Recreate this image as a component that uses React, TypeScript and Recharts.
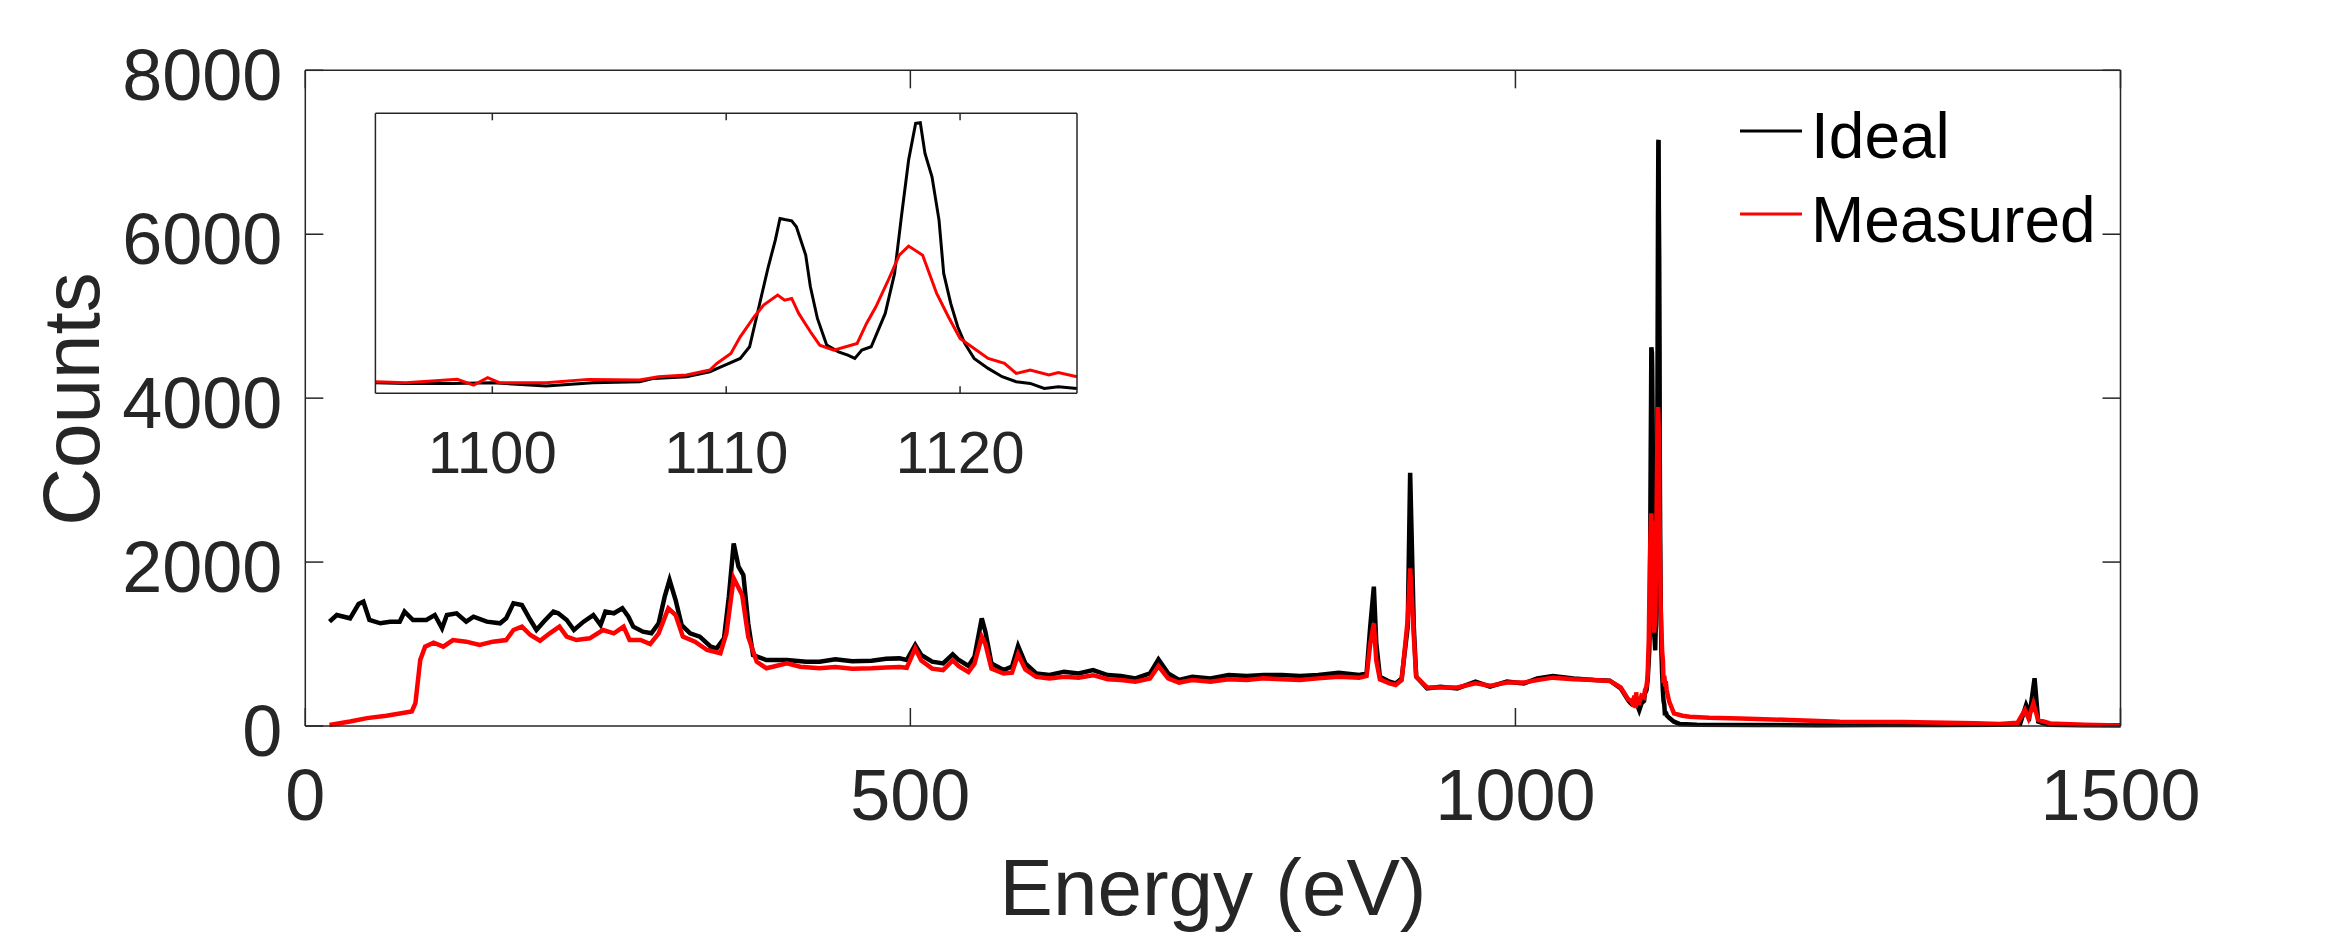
import React from "react"
import { LineChart, Line, XAxis, YAxis, Legend } from "recharts"

const FONT = "'Liberation Sans', Arial, Helvetica, sans-serif"
const AXIS = "#262626"

// Main spectrum (eV / counts). The 1095-1125 eV stretch comes from the inset arrays.
const idealEnergy = [
  20, 26, 37, 44, 48, 53, 62, 70, 78, 82, 89, 100, 107, 113, 117, 125, 133, 139, 150, 161,
  166, 172, 179, 186, 191, 197, 205, 209, 216, 222, 230, 238, 244, 248, 255, 262, 267, 271, 279, 286,
  292, 297, 301, 306, 311, 318, 326, 335, 340, 346, 350, 354, 358, 362, 366, 370, 381, 398, 414, 425,
  438, 452, 468, 480, 491, 497, 504, 509, 518, 527, 535, 540, 548, 553, 559, 562, 567, 577, 584, 589,
  595, 604, 615, 627, 639, 651, 663, 674, 686, 698, 705, 713, 722, 733, 748, 763, 778, 792, 807, 822,
  837, 854, 871, 877, 880, 883, 885, 888, 896, 901, 906, 911, 913, 916, 918, 927, 938, 952, 967, 979,
  993, 1007, 1018, 1031, 1048, 1065, 1078, 1087, 1093,
  1127, 1131, 1136, 1150, 1200, 1250, 1300, 1350, 1400, 1417, 1422, 1425, 1429, 1432, 1440, 1470, 1500,
]
const idealCounts = [
  1273, 1354, 1314, 1488, 1516, 1293, 1253, 1273, 1273, 1395, 1293, 1293, 1354, 1192, 1354, 1375, 1273, 1334, 1273, 1253,
  1314, 1497, 1476, 1293, 1171, 1273, 1395, 1375, 1293, 1171, 1273, 1354, 1232, 1395, 1375, 1436, 1334, 1212, 1151, 1131,
  1253, 1578, 1781, 1537, 1232, 1131, 1090, 968, 948, 1070, 1578, 2228, 1944, 1842, 1253, 866, 805, 805, 785, 785,
  813, 790, 797, 820, 825, 805, 988, 866, 785, 764, 874, 805, 732, 846, 1314, 1151, 764, 683, 724, 976,
  764, 642, 622, 663, 642, 683, 622, 610, 581, 642, 813, 642, 561, 602, 581, 622, 610, 622, 622, 610,
  622, 651, 622, 642, 1212, 1700, 1009, 602, 541, 520, 581, 1212, 3089, 1212, 602, 459, 480, 459, 541, 480,
  541, 520, 581, 610, 581, 561, 553, 459, 317,
  100, 53, 24, 15, 12, 10, 12, 12, 15, 24, 256, 150, 582, 53, 15, 10, 8,
]

const measuredEnergy = [
  20, 37, 51, 67, 88, 91, 95, 99, 106, 114, 122, 133, 144, 155, 166, 172, 179, 186, 194, 202,
  210, 216, 224, 235, 246, 255, 263, 268, 277, 285, 292, 300, 306, 312, 322, 332, 343, 348, 354, 361,
  366, 373, 381, 398, 409, 425, 438, 452, 468, 480, 491, 497, 504, 509, 518, 527, 535, 540, 548, 553,
  559, 562, 567, 577, 584, 589, 595, 604, 615, 627, 639, 651, 663, 674, 686, 698, 705, 713, 722, 733,
  748, 763, 778, 792, 807, 822, 837, 854, 871, 877, 880, 883, 885, 888, 896, 901, 906, 911, 913, 916,
  918, 927, 938, 952, 967, 979, 993, 1007, 1018, 1031, 1048, 1065, 1078, 1087, 1093,
  1127, 1131, 1138, 1144, 1160, 1186, 1227, 1268, 1320, 1380, 1400, 1415, 1421, 1424, 1428, 1432, 1442, 1470, 1500,
]
const measuredCounts = [
  12, 55, 96, 124, 177, 279, 807, 968, 1017, 968, 1049, 1029, 988, 1029, 1049, 1171, 1212, 1110, 1041, 1131,
  1212, 1090, 1049, 1070, 1171, 1131, 1212, 1049, 1049, 1000, 1131, 1436, 1354, 1090, 1029, 927, 887, 1131, 1802, 1598,
  1090, 785, 704, 765, 724, 704, 720, 700, 704, 715, 720, 710, 947, 800, 700, 683, 800, 730, 660, 760,
  1090, 1000, 700, 640, 650, 874, 690, 600, 581, 600, 590, 620, 570, 561, 540, 580, 732, 580, 530, 560,
  541, 570, 560, 581, 570, 560, 581, 600, 590, 610, 1000, 1253, 800, 570, 520, 500, 560, 1300, 1924, 1100,
  600, 470, 470, 470, 520, 490, 530, 530, 560, 590, 570, 560, 550, 470, 330,
  300, 154, 125, 114, 100, 93, 73, 53, 50, 35, 24, 40, 195, 93, 276, 73, 32, 15, 5,
]

// Inset: zoom on the 1095-1125 eV doublet
const insetIdealEnergy = [
  1095, 1096.3, 1098.3, 1100, 1102.3, 1104.3, 1106.3, 1106.9, 1108.3, 1109.3, 1109.8, 1110.6, 1111, 1111.4, 1111.8,
  1112.1, 1112.3, 1112.5, 1112.8, 1113, 1113.4, 1113.6, 1113.9, 1114.3, 1114.8, 1115.2, 1115.5, 1115.8, 1116.2,
  1116.8, 1117.2, 1117.5, 1117.8, 1118.1, 1118.3, 1118.5, 1118.8, 1119.1, 1119.3, 1119.6, 1119.9, 1120.2, 1120.6,
  1121.2, 1121.8, 1122.4, 1123, 1123.6, 1124.2, 1125,
]
const insetIdealCounts = [
  280, 262, 262, 280, 192, 280, 306, 394, 438, 570, 702, 922, 1230, 2287, 3344,
  4048, 4621, 4594, 4559, 4400, 3652, 2815, 1978, 1273, 1097, 1009, 922, 1141, 1230,
  2111, 3168, 4710, 6164, 7133, 7150, 6340, 5724, 4577, 3168, 2375, 1759, 1318, 922,
  658, 438, 306, 262, 130, 174, 130,
]
const insetMeasuredEnergy = [
  1095, 1096.3, 1098.5, 1099.2, 1099.8, 1100.3, 1102.3, 1104.1, 1106.3, 1107.1, 1108.3, 1109.3, 1109.6, 1110.2,
  1110.6, 1111.2, 1111.6, 1112.2, 1112.5, 1112.8, 1113.1, 1113.6, 1114, 1114.6, 1115.6, 1116, 1116.4, 1116.9,
  1117.4, 1117.8, 1118.4, 1119, 1119.5, 1120, 1120.6, 1121.2, 1121.9, 1122.4, 1123, 1123.8, 1124.2, 1125,
]
const insetMeasuredCounts = [
  306, 280, 368, 218, 412, 280, 280, 368, 350, 438, 482, 614, 790, 1053,
  1494, 2023, 2331, 2595, 2463, 2507, 2111, 1626, 1273, 1141, 1318, 1847, 2287, 2948,
  3652, 3890, 3652, 2639, 2023, 1450, 1185, 922, 790, 526, 614, 482, 546, 438,
]

const mainXTicks = [0, 500, 1000, 1500]
const mainYTicks = [0, 2000, 4000, 6000, 8000]
const insetXTicks = [1100, 1110, 1120]

type Pt = { energy: number; counts: number }
const zip = (es: number[], cs: number[]): Pt[] => es.map((e, i) => ({ energy: e, counts: cs[i] }))

const insetIdeal = zip(insetIdealEnergy, insetIdealCounts)
const insetMeasured = zip(insetMeasuredEnergy, insetMeasuredCounts)
const idealData = [...zip(idealEnergy, idealCounts), ...insetIdeal].sort((a, b) => a.energy - b.energy)
const measuredData = [...zip(measuredEnergy, measuredCounts), ...insetMeasured].sort((a, b) => a.energy - b.energy)

// ticks point inward, MATLAB style; dir = +1 draws up/right from the axis line
function xTick(len: number, dir: number, fontSize?: number, labelDy?: number) {
  return (props: any) => {
    const { x, y, payload } = props
    return (
      <g>
        <line x1={x} y1={y} x2={x} y2={y - dir * len} stroke={AXIS} strokeWidth={1.5} />
        {fontSize && (
          <text x={x} y={y + (labelDy || 0)} textAnchor="middle" fontSize={fontSize} fontFamily={FONT} fill={AXIS}>
            {payload.value}
          </text>
        )}
      </g>
    )
  }
}

function yTick(len: number, dir: number, fontSize?: number) {
  return (props: any) => {
    const { x, y, payload } = props
    return (
      <g>
        <line x1={x} y1={y} x2={x + dir * len} y2={y} stroke={AXIS} strokeWidth={1.5} />
        {fontSize && (
          <text x={x - 23} y={y + 30} textAnchor="end" fontSize={fontSize} fontFamily={FONT} fill={AXIS}>
            {payload.value}
          </text>
        )}
      </g>
    )
  }
}

const axisLine = { stroke: AXIS, strokeWidth: 1.5 }

function renderLegend() {
  return (
    <svg width={400} height={170}>
      <line x1={10} y1={41} x2={72} y2={41} stroke="#000000" strokeWidth={3} />
      <text x={81} y={68} fontSize={64} fontFamily={FONT} fill="#000000">Ideal</text>
      <line x1={10} y1={124} x2={72} y2={124} stroke="#ff0000" strokeWidth={3} />
      <text x={81} y={152} fontSize={64} fontFamily={FONT} fill="#000000">Measured</text>
    </svg>
  )
}

// Measured is plotted against the top/right axes (same domains as bottom/left) so those
// axes get data and draw their inward ticks, giving the closed MATLAB-style box.
export default function App() {
  return (
    <div style={{ position: "absolute", left: 0, top: 0, width: 2344, height: 938, background: "#ffffff" }}>
      <LineChart width={2344} height={938} margin={{ top: 69.3, right: 222.5, bottom: 211, left: 304.3 }}>
        <XAxis
          dataKey="energy"
          type="number"
          domain={[0, 1500]}
          ticks={mainXTicks}
          height={1}
          tickSize={0}
          tickMargin={0}
          axisLine={axisLine}
          tickLine={false}
          tick={xTick(18, 1, 72, 94)}
          interval={0}
        />
        <XAxis
          xAxisId="top"
          orientation="top"
          dataKey="energy"
          type="number"
          domain={[0, 1500]}
          ticks={mainXTicks}
          height={1}
          tickSize={0}
          tickMargin={0}
          axisLine={axisLine}
          tickLine={false}
          tick={xTick(18, -1)}
          interval={0}
        />
        <YAxis
          type="number"
          domain={[0, 8000]}
          ticks={mainYTicks}
          width={1}
          tickSize={0}
          tickMargin={0}
          axisLine={axisLine}
          tickLine={false}
          tick={yTick(18, 1, 72)}
          interval={0}
        />
        <YAxis
          yAxisId="right"
          orientation="right"
          type="number"
          domain={[0, 8000]}
          ticks={mainYTicks}
          width={1}
          tickSize={0}
          tickMargin={0}
          axisLine={axisLine}
          tickLine={false}
          tick={yTick(18, -1)}
          interval={0}
        />
        <Legend
          layout="vertical"
          align="center"
          verticalAlign="middle"
          content={renderLegend}
          wrapperStyle={{ left: 1730, top: 90, width: 400, height: 170 }}
        />
        <Line data={idealData} dataKey="counts" name="Ideal" stroke="#000000" strokeWidth={4.5} dot={false} type="linear" isAnimationActive={false} />
        <Line
          data={measuredData}
          dataKey="counts"
          name="Measured"
          xAxisId="top"
          yAxisId="right"
          stroke="#ff0000"
          strokeWidth={4.5}
          dot={false}
          type="linear"
          isAnimationActive={false}
        />
      </LineChart>

      <div style={{ position: "absolute", left: 300, top: 100, width: 800, height: 400 }}>
        <LineChart width={800} height={400} margin={{ top: 12.3, right: 22, bottom: 105.7, left: 74.4 }}>
          <XAxis
            dataKey="energy"
            type="number"
            domain={[1095, 1125]}
            ticks={insetXTicks}
            height={1}
            tickSize={0}
            tickMargin={0}
            axisLine={axisLine}
            tickLine={false}
            tick={xTick(7, 1, 60, 80)}
            interval={0}
          />
          <XAxis
            xAxisId="top"
            orientation="top"
            dataKey="energy"
            type="number"
            domain={[1095, 1125]}
            ticks={insetXTicks}
            height={1}
            tickSize={0}
            tickMargin={0}
            axisLine={axisLine}
            tickLine={false}
            tick={xTick(7, -1)}
            interval={0}
          />
          <YAxis type="number" domain={[0, 7400]} width={1} tick={false} tickLine={false} axisLine={axisLine} />
          <YAxis yAxisId="right" orientation="right" type="number" domain={[0, 7400]} width={1} tick={false} tickLine={false} axisLine={axisLine} />
          <Line data={insetIdeal} dataKey="counts" name="Ideal" stroke="#000000" strokeWidth={3} dot={false} type="linear" isAnimationActive={false} />
          <Line
            data={insetMeasured}
            dataKey="counts"
            name="Measured"
            xAxisId="top"
            yAxisId="right"
            stroke="#ff0000"
            strokeWidth={3}
            dot={false}
            type="linear"
            isAnimationActive={false}
          />
        </LineChart>
      </div>

      <svg width={2344} height={938} style={{ position: "absolute", left: 0, top: 0, pointerEvents: "none" }}>
        <text x={1213} y={915} textAnchor="middle" fontSize={80} fontFamily={FONT} fill={AXIS}>Energy (eV)</text>
        <text transform="translate(99,399) rotate(-90)" textAnchor="middle" fontSize={80} fontFamily={FONT} fill={AXIS}>Counts</text>
      </svg>
    </div>
  )
}
